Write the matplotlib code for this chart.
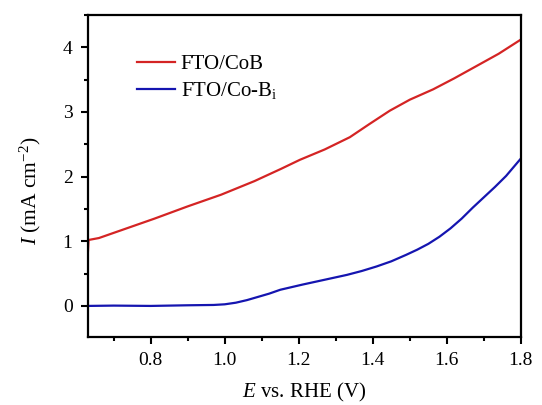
import numpy as np
import matplotlib.pyplot as plt
from matplotlib.ticker import MultipleLocator

plt.rcParams['font.family'] = 'Liberation Serif'
plt.rcParams['mathtext.fontset'] = 'custom'
plt.rcParams['mathtext.rm'] = 'Liberation Serif'
plt.rcParams['mathtext.it'] = 'Liberation Serif:italic'

# FTO/CoB
e_cob = [0.630, 0.632, 0.66, 0.72, 0.81, 0.90, 0.99, 1.08, 1.152, 1.203,
         1.27, 1.338, 1.39, 1.446, 1.50, 1.563, 1.62, 1.680, 1.74, 1.80]
i_cob = [0.80, 1.02, 1.05, 1.17, 1.35, 1.54, 1.72, 1.93, 2.12, 2.26,
         2.42, 2.61, 2.81, 3.02, 3.19, 3.35, 3.52, 3.71, 3.90, 4.12]

# FTO/Co-Bi
e_cobi = [0.630, 0.70, 0.80, 0.90, 0.97, 1.00, 1.03, 1.06, 1.09, 1.12,
          1.15, 1.18, 1.21, 1.25, 1.29, 1.33, 1.37, 1.41, 1.45, 1.49,
          1.52, 1.55, 1.58, 1.61, 1.64, 1.67, 1.70, 1.73, 1.76, 1.80]
i_cobi = [0.00, 0.005, 0.00, 0.01, 0.015, 0.025, 0.05, 0.09, 0.14, 0.19,
          0.25, 0.29, 0.33, 0.38, 0.43, 0.48, 0.54, 0.61, 0.69, 0.79,
          0.87, 0.96, 1.07, 1.20, 1.35, 1.52, 1.68, 1.84, 2.01, 2.28]

fig = plt.figure(figsize=(5.42, 4.05), dpi=100)
ax = fig.add_axes([0.162, 0.168, 0.799, 0.795])

ax.plot(e_cob, i_cob, color='#d42424', lw=1.6, label='FTO/CoB')
ax.plot(e_cobi, i_cobi, color='#1515b0', lw=1.6, label=r'FTO/Co-B$_\mathrm{i}$')

ax.set_xlim(0.63, 1.8)
ax.set_ylim(-0.48, 4.5)
ax.xaxis.set_major_locator(MultipleLocator(0.2))
ax.xaxis.set_minor_locator(MultipleLocator(0.1))
ax.yaxis.set_major_locator(MultipleLocator(1))
ax.yaxis.set_minor_locator(MultipleLocator(0.5))
ax.xaxis.set_major_formatter(lambda v, p: f'{v:.1f}')

ax.tick_params(which='both', direction='out', top=False, right=False,
               width=1.5, labelsize=14, pad=6)
ax.tick_params(which='major', length=5)
ax.tick_params(which='minor', length=3)
for s in ax.spines.values():
    s.set_linewidth(1.6)

ax.set_xlabel(r'$\mathit{E}$ vs. RHE (V)', fontsize=15)
ax.xaxis.set_label_coords(0.5, -0.137)
ax.set_ylabel(r'$\mathit{I}$ (mA cm$^{-2}$)', fontsize=15.5)
ax.yaxis.set_label_coords(-0.104, 0.453)

ax.legend(loc='upper left', bbox_to_anchor=(0.07, 0.936), frameon=False,
          fontsize=15, handlelength=1.85, handletextpad=0.25, labelspacing=0.3)

fig.savefig('out.png', dpi=100)
